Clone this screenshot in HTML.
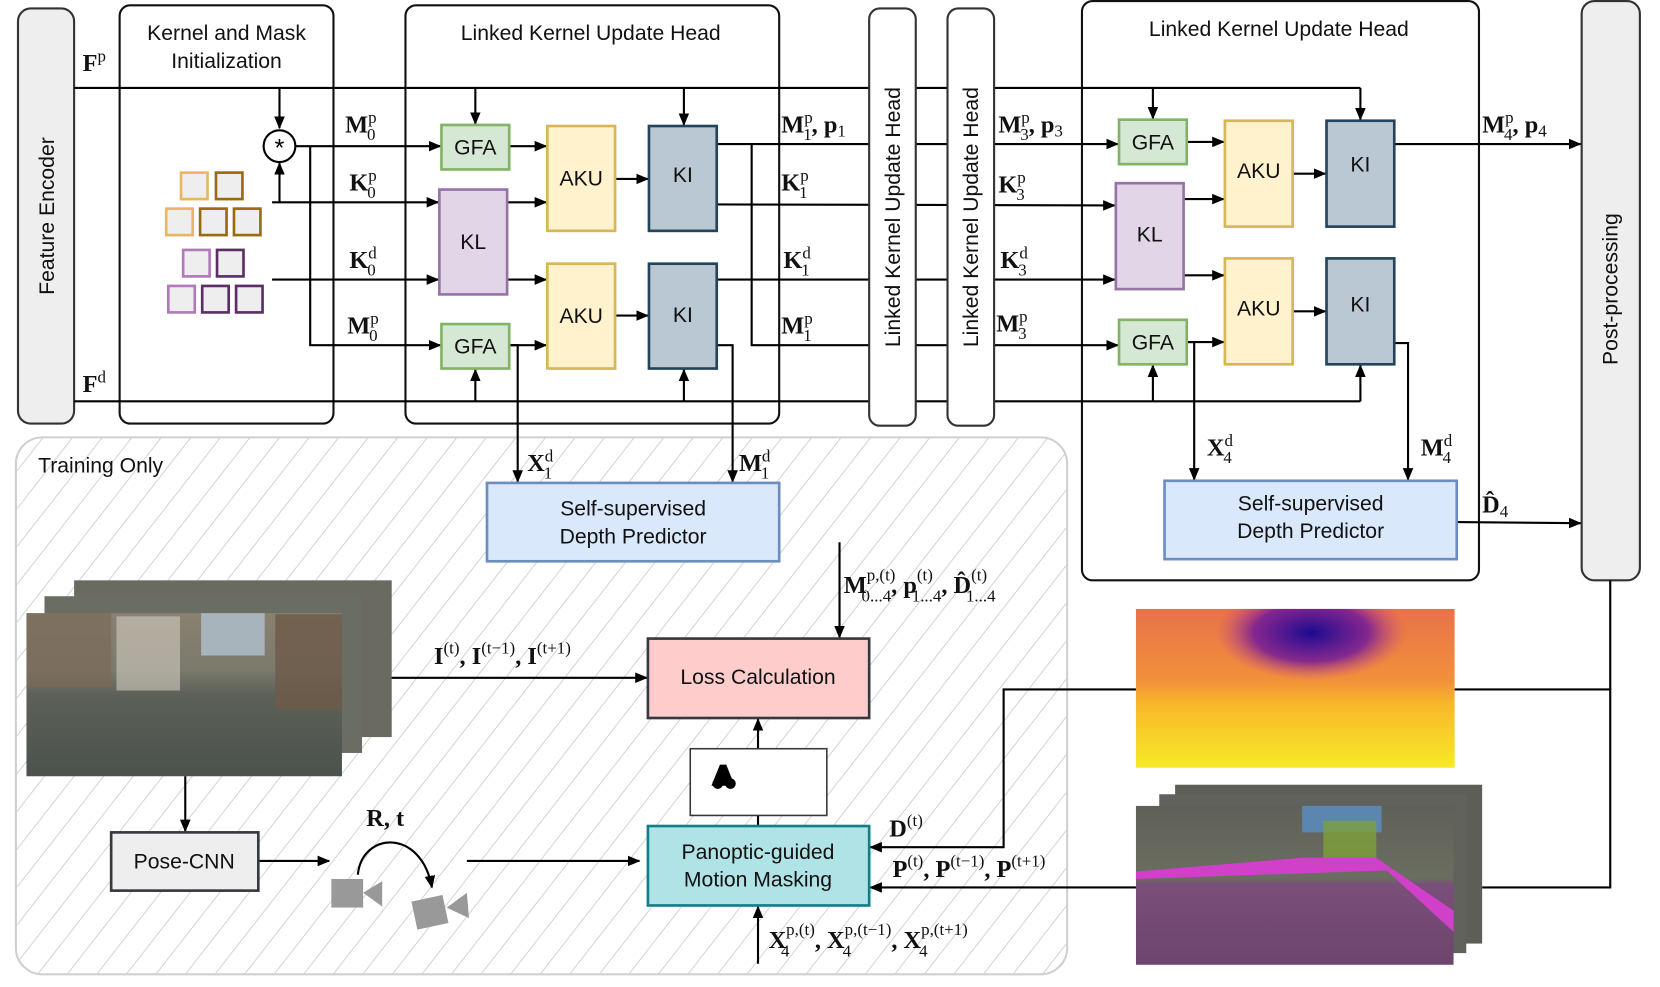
<!DOCTYPE html>
<html><head><meta charset="utf-8"><style>
html,body{margin:0;padding:0;background:#fff;}
svg{display:block;}
.s{font-family:"Liberation Sans",sans-serif;font-size:20px;fill:#111;}
.m{font-family:"Liberation Serif",serif;font-size:23px;font-weight:bold;fill:#111;}
.sp{font-size:16px;font-weight:normal;}
</style></head><body>
<svg width="1660" height="987" viewBox="0 0 1568 932" preserveAspectRatio="none" xmlns="http://www.w3.org/2000/svg">
<defs>
<marker id="a" markerWidth="12" markerHeight="10" refX="11" refY="5" orient="auto" markerUnits="userSpaceOnUse"><path d="M0,0 L12,5 L0,10 z" fill="#000"/></marker>
<pattern id="h" width="22" height="22" patternUnits="userSpaceOnUse" patternTransform="rotate(38)"><line x1="0" y1="0" x2="0" y2="22" stroke="#c8c8c8" stroke-width="1.5"/></pattern>
<linearGradient id="street" x1="0" y1="0" x2="0" y2="1"><stop offset="0" stop-color="#8a8070"/><stop offset="0.35" stop-color="#7b7a6c"/><stop offset="0.5" stop-color="#5c6158"/><stop offset="1" stop-color="#4b524c"/></linearGradient>
<linearGradient id="depth" x1="0" y1="0" x2="0" y2="1"><stop offset="0" stop-color="#e8724a"/><stop offset="0.45" stop-color="#f2903a"/><stop offset="0.6" stop-color="#f8b82a"/><stop offset="1" stop-color="#f6ea26"/></linearGradient>
<radialGradient id="dark" cx="0.55" cy="0.15" r="0.3"><stop offset="0" stop-color="#1a0a90"/><stop offset="0.6" stop-color="#6a12a0" stop-opacity="0.8"/><stop offset="1" stop-color="#c04090" stop-opacity="0"/></radialGradient>
<linearGradient id="seg" x1="0" y1="0" x2="0" y2="1"><stop offset="0" stop-color="#606058"/><stop offset="0.45" stop-color="#6a6e60"/><stop offset="0.5" stop-color="#7a4e7a"/><stop offset="1" stop-color="#6c456c"/></linearGradient>
</defs>

<rect x="15" y="413" width="993" height="507" rx="25" fill="url(#h)" stroke="#d0d0d0" stroke-width="2"/>
<text x="36" y="446" class="s">Training Only</text>

<rect x="17" y="8" width="53" height="392" rx="12" fill="#eeeeee" stroke="#333" stroke-width="2"/>
<text class="s" transform="translate(51,204) rotate(-90)" text-anchor="middle" font-size="21">Feature Encoder</text>
<rect x="113" y="5" width="202" height="395" rx="10" fill="none" stroke="#111" stroke-width="2"/>
<text x="214" y="38" class="s" text-anchor="middle">Kernel and Mask</text>
<text x="214" y="64" class="s" text-anchor="middle">Initialization</text>
<rect x="383" y="5" width="353" height="395" rx="10" fill="none" stroke="#111" stroke-width="2"/>
<text x="558" y="38" class="s" text-anchor="middle">Linked Kernel Update Head</text>
<rect x="1022" y="1" width="375" height="547" rx="10" fill="#fff" stroke="#111" stroke-width="2"/>
<text x="1208" y="34" class="s" text-anchor="middle">Linked Kernel Update Head</text>
<rect x="1494" y="1" width="55" height="547" rx="12" fill="#eeeeee" stroke="#333" stroke-width="2"/>
<text class="s" transform="translate(1528,273) rotate(-90)" text-anchor="middle">Post-processing</text>

<g stroke="#000" stroke-width="2" fill="none">
<line x1="70" y1="83" x2="1285" y2="83"/>
<line x1="70" y1="379" x2="1285" y2="379"/>
<line x1="264" y1="83" x2="264" y2="121" marker-end="url(#a)"/>
<line x1="449" y1="83" x2="449" y2="117" marker-end="url(#a)"/>
<line x1="646" y1="83" x2="646" y2="118" marker-end="url(#a)"/>
<line x1="1089" y1="83" x2="1089" y2="112" marker-end="url(#a)"/>
<line x1="1285" y1="83" x2="1285" y2="113" marker-end="url(#a)"/>
<line x1="449" y1="379" x2="449" y2="349" marker-end="url(#a)"/>
<line x1="646" y1="379" x2="646" y2="349" marker-end="url(#a)"/>
<line x1="1089" y1="379" x2="1089" y2="345" marker-end="url(#a)"/>
<line x1="1285" y1="379" x2="1285" y2="345" marker-end="url(#a)"/>
<line x1="279" y1="138" x2="416" y2="138" marker-end="url(#a)"/>
<polyline points="293,138 293,326 416,326" marker-end="url(#a)"/>
<line x1="257" y1="191" x2="414" y2="191" marker-end="url(#a)"/>
<line x1="264" y1="191" x2="264" y2="154" marker-end="url(#a)"/>
<line x1="257" y1="264" x2="414" y2="264" marker-end="url(#a)"/>
<line x1="481" y1="138" x2="516" y2="138" marker-end="url(#a)"/>
<line x1="479" y1="191" x2="516" y2="191" marker-end="url(#a)"/>
<line x1="479" y1="264" x2="516" y2="264" marker-end="url(#a)"/>
<line x1="481" y1="326" x2="516" y2="326" marker-end="url(#a)"/>
<line x1="581" y1="169" x2="612" y2="169" marker-end="url(#a)"/>
<line x1="581" y1="298" x2="612" y2="298" marker-end="url(#a)"/>
<line x1="677" y1="136" x2="1056" y2="136" marker-end="url(#a)"/>
<polyline points="710,136 710,326 1056,326" marker-end="url(#a)"/>
<line x1="677" y1="193" x2="1053" y2="194" marker-end="url(#a)"/>
<line x1="677" y1="264" x2="1053" y2="264" marker-end="url(#a)"/>
<polyline points="677,326 692,326 692,455" marker-end="url(#a)"/>
<polyline points="481,326 489,326 489,455" marker-end="url(#a)"/>
<line x1="1121" y1="134" x2="1156" y2="134" marker-end="url(#a)"/>
<line x1="1118" y1="188" x2="1156" y2="188" marker-end="url(#a)"/>
<line x1="1118" y1="260" x2="1156" y2="260" marker-end="url(#a)"/>
<line x1="1121" y1="323" x2="1156" y2="323" marker-end="url(#a)"/>
<line x1="1221" y1="164" x2="1252" y2="164" marker-end="url(#a)"/>
<line x1="1221" y1="294" x2="1252" y2="294" marker-end="url(#a)"/>
<line x1="1317" y1="136" x2="1493" y2="136" marker-end="url(#a)"/>
<polyline points="1121,323 1128,323 1128,453" marker-end="url(#a)"/>
<polyline points="1317,324 1330,324 1330,453" marker-end="url(#a)"/>
<line x1="1376" y1="493" x2="1493" y2="494" marker-end="url(#a)"/>
<polyline points="1521,548 1521,838 1400,838"/>
<line x1="1374" y1="651" x2="1521" y2="651"/>
<polyline points="1073,651 948,651 948,800 822,800" marker-end="url(#a)"/>
<line x1="1073" y1="838" x2="822" y2="838" marker-end="url(#a)"/>
<line x1="793" y1="512" x2="793" y2="602" marker-end="url(#a)"/>
<line x1="369" y1="640" x2="611" y2="640" marker-end="url(#a)"/>
<line x1="175" y1="733" x2="175" y2="785" marker-end="url(#a)"/>
<line x1="244" y1="813" x2="311" y2="813" marker-end="url(#a)"/>
<line x1="441" y1="813" x2="604" y2="813" marker-end="url(#a)"/>
<line x1="716" y1="780" x2="716" y2="770"/>
<line x1="716" y1="707" x2="716" y2="679" marker-end="url(#a)"/>
<line x1="716" y1="910" x2="716" y2="856" marker-end="url(#a)"/>
<path d="M338,826 C342,785 398,782 408,838" marker-end="url(#a)"/>
</g>

<rect x="821" y="8" width="44" height="394" rx="10" fill="#fff" stroke="#333" stroke-width="2"/>
<text class="s" transform="translate(850,205) rotate(-90)" text-anchor="middle">Linked Kernel Update Head</text>
<rect x="895" y="8" width="44" height="394" rx="10" fill="#fff" stroke="#333" stroke-width="2"/>
<text class="s" transform="translate(924,205) rotate(-90)" text-anchor="middle">Linked Kernel Update Head</text>

<circle cx="264" cy="138" r="15" fill="#fff" stroke="#000" stroke-width="2"/>
<text x="264" y="148" text-anchor="middle" font-family="Liberation Sans" font-size="24">*</text>

<g stroke-width="2.5" fill="#eeeeee">
<rect x="171" y="163" width="25" height="25" stroke="#e8b766"/><rect x="204" y="163" width="25" height="25" stroke="#9a6a10"/>
<rect x="157" y="197" width="25" height="25" stroke="#e8b766"/><rect x="189" y="197" width="25" height="25" stroke="#9a6a10"/><rect x="221" y="197" width="25" height="25" stroke="#9a6a10"/>
<rect x="173" y="236" width="25" height="25" stroke="#b07ab8"/><rect x="205" y="236" width="25" height="25" stroke="#5c2e66"/>
<rect x="159" y="270" width="25" height="25" stroke="#b07ab8"/><rect x="191" y="270" width="25" height="25" stroke="#5c2e66"/><rect x="223" y="270" width="25" height="25" stroke="#5c2e66"/>
</g>

<g stroke-width="2.5">
<rect x="417" y="118" width="64" height="42" fill="#d5e8d4" stroke="#82b366"/>
<rect x="415" y="179" width="64" height="99" fill="#e1d5e7" stroke="#9673a6"/>
<rect x="417" y="306" width="64" height="42" fill="#d5e8d4" stroke="#82b366"/>
<rect x="517" y="119" width="64" height="99" fill="#fff2cc" stroke="#d6b656"/>
<rect x="517" y="249" width="64" height="99" fill="#fff2cc" stroke="#d6b656"/>
<rect x="613" y="119" width="64" height="99" fill="#bac8d3" stroke="#23445d"/>
<rect x="613" y="249" width="64" height="99" fill="#bac8d3" stroke="#23445d"/>
<rect x="1057" y="113" width="64" height="42" fill="#d5e8d4" stroke="#82b366"/>
<rect x="1054" y="173" width="64" height="100" fill="#e1d5e7" stroke="#9673a6"/>
<rect x="1057" y="302" width="64" height="42" fill="#d5e8d4" stroke="#82b366"/>
<rect x="1157" y="114" width="64" height="100" fill="#fff2cc" stroke="#d6b656"/>
<rect x="1157" y="244" width="64" height="100" fill="#fff2cc" stroke="#d6b656"/>
<rect x="1253" y="114" width="64" height="100" fill="#bac8d3" stroke="#23445d"/>
<rect x="1253" y="244" width="64" height="100" fill="#bac8d3" stroke="#23445d"/>
<rect x="460" y="456" width="276" height="74" fill="#dae8fc" stroke="#6c8ebf"/>
<rect x="1100" y="454" width="276" height="74" fill="#dae8fc" stroke="#6c8ebf"/>
<rect x="612" y="603" width="209" height="75" fill="#ffcccc" stroke="#36393d"/>
<rect x="652" y="707" width="129" height="63" fill="#fff" stroke="#36393d" stroke-width="1.5"/>
<rect x="612" y="780" width="209" height="75" fill="#b0e3e6" stroke="#0e8088"/>
<rect x="105" y="786" width="139" height="55" fill="#eeeeee" stroke="#36393d"/>
</g>
<g class="s" text-anchor="middle">
<text x="449" y="146">GFA</text><text x="447" y="235">KL</text><text x="449" y="334">GFA</text>
<text x="549" y="175">AKU</text><text x="549" y="305">AKU</text>
<text x="645" y="172">KI</text><text x="645" y="304">KI</text>
<text x="1089" y="141">GFA</text><text x="1086" y="228">KL</text><text x="1089" y="330">GFA</text>
<text x="1189" y="168">AKU</text><text x="1189" y="298">AKU</text>
<text x="1285" y="162">KI</text><text x="1285" y="294">KI</text>
<text x="598" y="487">Self-supervised</text><text x="598" y="513">Depth Predictor</text>
<text x="1238" y="482">Self-supervised</text><text x="1238" y="508">Depth Predictor</text>
<text x="716" y="646">Loss Calculation</text>
<text x="716" y="811">Panoptic-guided</text><text x="716" y="837">Motion Masking</text>
<text x="174" y="820">Pose-CNN</text>
</g>
<path d="M680,722 L686,722 L694,742 L672,742 z" fill="#000"/>
<circle cx="678" cy="740" r="5" fill="#000"/><circle cx="690" cy="740" r="5" fill="#000"/>

<g fill="#999">
<rect x="313" y="830" width="30" height="27"/><path d="M343,843 L361,832 L361,856 z"/>
<rect x="391" y="848" width="30" height="27" transform="rotate(-12 406 861)"/><path d="M422,857 L441,843 L443,867 z"/>
</g>

<rect x="70" y="548" width="300" height="148" fill="#6a6a60"/>
<rect x="42" y="563" width="300" height="148" fill="#6a6d64"/>
<rect x="25" y="579" width="298" height="154" fill="url(#street)"/>
<rect x="25" y="579" width="80" height="70" fill="#7a6a58" opacity="0.7"/>
<rect x="190" y="579" width="60" height="40" fill="#a8b4bc"/>
<rect x="260" y="580" width="63" height="90" fill="#6e5a48" opacity="0.8"/>
<rect x="110" y="582" width="60" height="70" fill="#d0ccc0" opacity="0.6"/>
<rect x="1073" y="575" width="301" height="150" fill="url(#depth)"/>
<rect x="1073" y="575" width="301" height="150" fill="url(#dark)"/>
<rect x="1110" y="741" width="290" height="150" fill="#5e5e58"/>
<rect x="1095" y="750" width="290" height="150" fill="#62625c"/>
<rect x="1073" y="761" width="300" height="150" fill="url(#seg)"/>
<rect x="1230" y="761" width="75" height="25" fill="#5a86b0"/>
<rect x="1250" y="775" width="50" height="40" fill="#7ea03a" opacity="0.8"/>
<path d="M1073,823 L1230,810 L1300,810 L1373,860 L1373,880 L1310,822 L1073,830z" fill="#d040c8"/>

<g class="m">
<text x="78" y="67">F<tspan class="sp" dy="-9">p</tspan></text>
<text x="78" y="370">F<tspan class="sp" dy="-9">d</tspan></text>
<text x="326" y="125">M<tspan class="sp" dy="-9">p</tspan><tspan class="sp" dx="-9" dy="16">0</tspan></text>
<text x="330" y="180">K<tspan class="sp" dy="-9">p</tspan><tspan class="sp" dx="-9" dy="16">0</tspan></text>
<text x="330" y="253">K<tspan class="sp" dy="-9">d</tspan><tspan class="sp" dx="-9" dy="16">0</tspan></text>
<text x="328" y="315">M<tspan class="sp" dy="-9">p</tspan><tspan class="sp" dx="-9" dy="16">0</tspan></text>
<text x="738" y="125">M<tspan class="sp" dy="-9">p</tspan><tspan class="sp" dx="-9" dy="16">1</tspan><tspan dy="-7">, p</tspan><tspan class="sp" dy="4">1</tspan></text>
<text x="738" y="180">K<tspan class="sp" dy="-9">p</tspan><tspan class="sp" dx="-9" dy="16">1</tspan></text>
<text x="740" y="253">K<tspan class="sp" dy="-9">d</tspan><tspan class="sp" dx="-9" dy="16">1</tspan></text>
<text x="738" y="315">M<tspan class="sp" dy="-9">p</tspan><tspan class="sp" dx="-9" dy="16">1</tspan></text>
<text x="943" y="125">M<tspan class="sp" dy="-9">p</tspan><tspan class="sp" dx="-9" dy="16">3</tspan><tspan dy="-7">, p</tspan><tspan class="sp" dy="4">3</tspan></text>
<text x="943" y="182">K<tspan class="sp" dy="-9">p</tspan><tspan class="sp" dx="-9" dy="16">3</tspan></text>
<text x="945" y="253">K<tspan class="sp" dy="-9">d</tspan><tspan class="sp" dx="-9" dy="16">3</tspan></text>
<text x="941" y="313">M<tspan class="sp" dy="-9">p</tspan><tspan class="sp" dx="-9" dy="16">3</tspan></text>
<text x="1400" y="125">M<tspan class="sp" dy="-9">p</tspan><tspan class="sp" dx="-9" dy="16">4</tspan><tspan dy="-7">, p</tspan><tspan class="sp" dy="4">4</tspan></text>
<text x="498" y="445">X<tspan class="sp" dy="-9">d</tspan><tspan class="sp" dx="-9" dy="16">1</tspan></text>
<text x="698" y="445">M<tspan class="sp" dy="-9">d</tspan><tspan class="sp" dx="-9" dy="16">1</tspan></text>
<text x="1140" y="430">X<tspan class="sp" dy="-9">d</tspan><tspan class="sp" dx="-9" dy="16">4</tspan></text>
<text x="1342" y="430">M<tspan class="sp" dy="-9">d</tspan><tspan class="sp" dx="-9" dy="16">4</tspan></text>
<text x="1400" y="484">D̂<tspan class="sp" dy="4">4</tspan></text>
<text x="797" y="560">M<tspan class="sp" dy="-12">p,(t)</tspan><tspan class="sp" dx="-32" dy="20">0...4</tspan><tspan dy="-8">, p</tspan><tspan class="sp" dy="-12">(t)</tspan><tspan class="sp" dx="-20" dy="20">1...4</tspan><tspan dy="-8">, D̂</tspan><tspan class="sp" dy="-12">(t)</tspan><tspan class="sp" dx="-20" dy="20">1...4</tspan></text>
<text x="410" y="627">I<tspan class="sp" dy="-10">(t)</tspan><tspan dy="10">, I</tspan><tspan class="sp" dy="-10">(t−1)</tspan><tspan dy="10">, I</tspan><tspan class="sp" dy="-10">(t+1)</tspan></text>
<text x="346" y="780">R, t</text>
<text x="840" y="790">D<tspan class="sp" dy="-10">(t)</tspan></text>
<text x="843" y="828">P<tspan class="sp" dy="-10">(t)</tspan><tspan dy="10">, P</tspan><tspan class="sp" dy="-10">(t−1)</tspan><tspan dy="10">, P</tspan><tspan class="sp" dy="-10">(t+1)</tspan></text>
<text x="726" y="895">X<tspan class="sp" dy="-12">p,(t)</tspan><tspan class="sp" dx="-32" dy="20">4</tspan><tspan dx="24" dy="-8">, X</tspan><tspan class="sp" dy="-12">p,(t−1)</tspan><tspan class="sp" dx="-46" dy="20">4</tspan><tspan dx="38" dy="-8">, X</tspan><tspan class="sp" dy="-12">p,(t+1)</tspan><tspan class="sp" dx="-46" dy="20">4</tspan></text>
</g>
</svg>
</body></html>
